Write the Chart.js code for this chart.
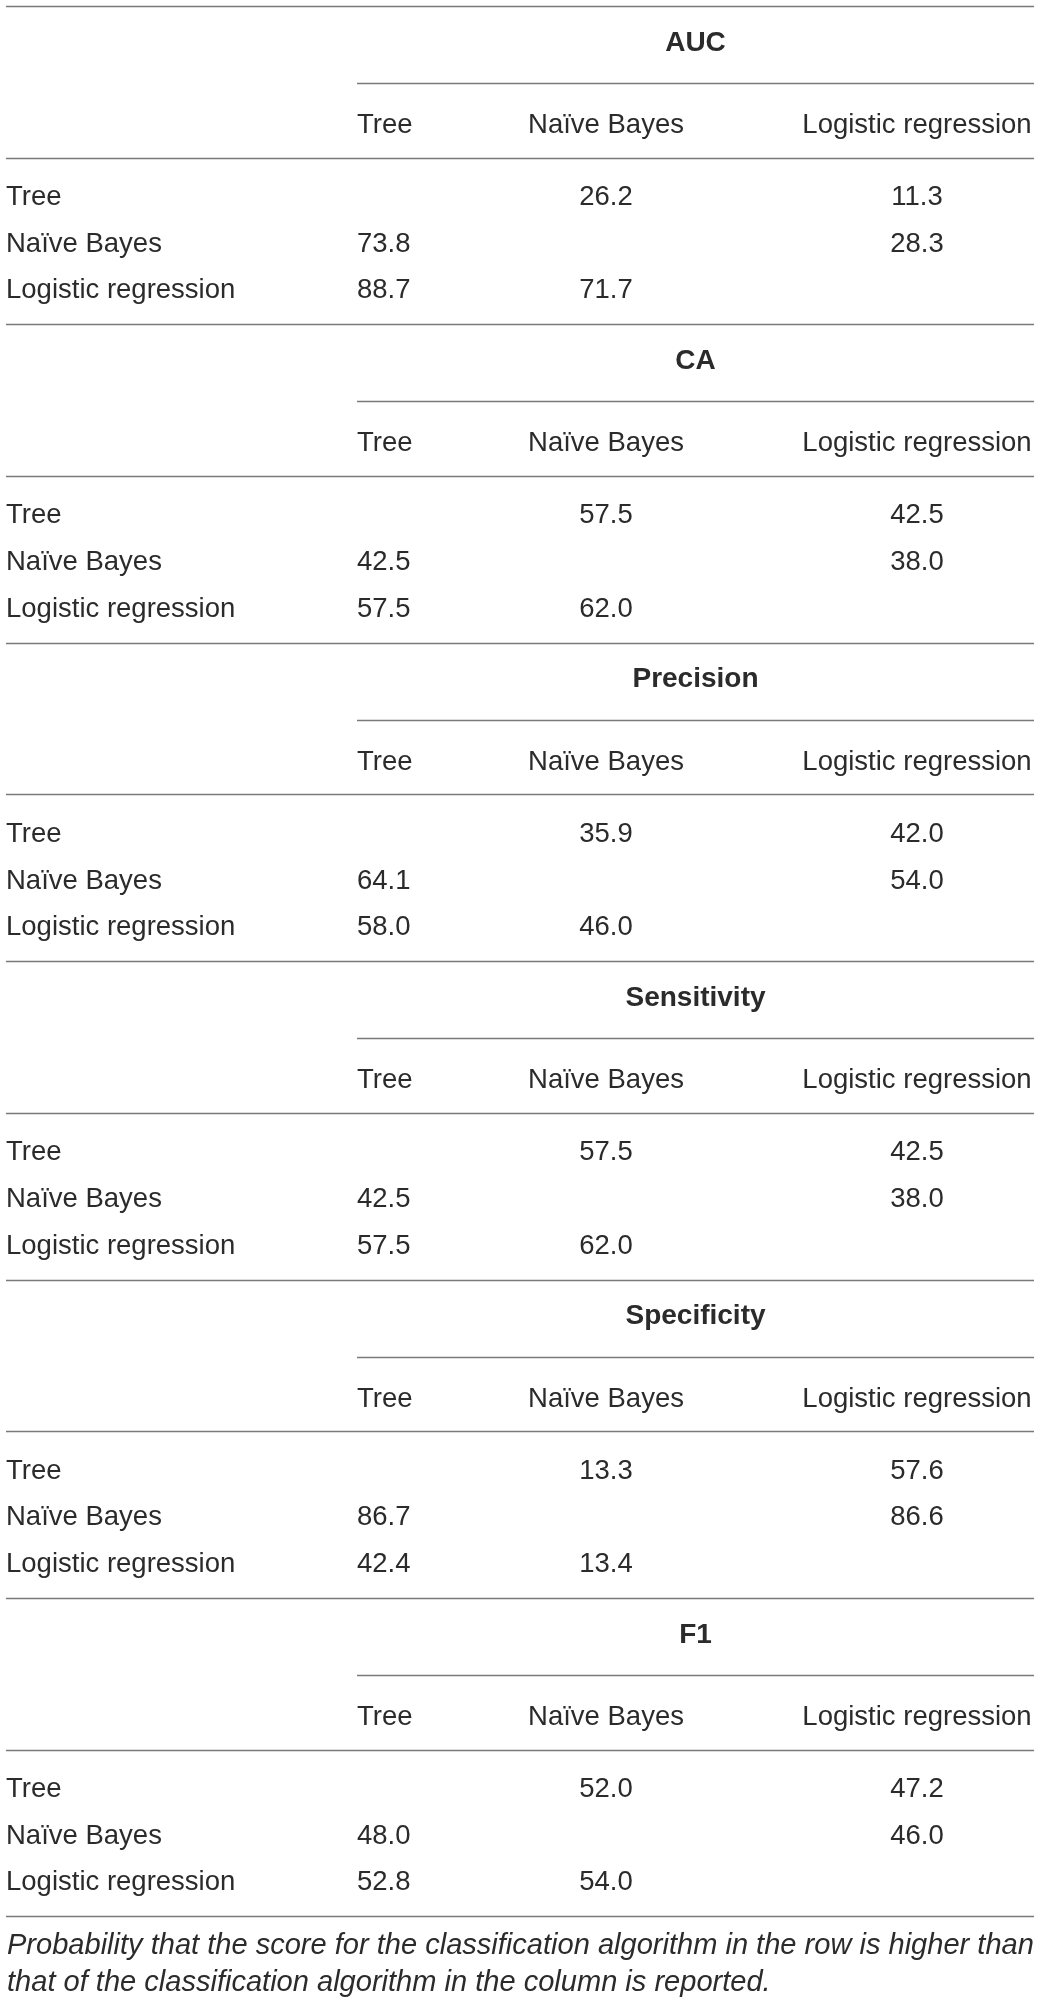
<!DOCTYPE html>
<html lang="en">
<head>
    <meta charset="UTF-8">
    <title>Pairwise comparison of classifiers</title>
    <script src="https://cdn.jsdelivr.net/npm/chart.js"></script>
    <style>
        html, body { margin: 0; padding: 0; background: #fff; }
        #tableChart { display: block; }
    </style>
</head>
<body>
    <canvas id="tableChart" width="1040" height="2003"></canvas>

    <script>
        const metricNames = ['AUC', 'CA', 'Precision', 'Sensitivity', 'Specificity', 'F1'];
        const algorithms = ['Tree', 'Naïve Bayes', 'Logistic regression'];
        const aucScores = [[null, 26.2, 11.3], [73.8, null, 28.3], [88.7, 71.7, null]];
        const caScores = [[null, 57.5, 42.5], [42.5, null, 38.0], [57.5, 62.0, null]];
        const precisionScores = [[null, 35.9, 42.0], [64.1, null, 54.0], [58.0, 46.0, null]];
        const sensitivityScores = [[null, 57.5, 42.5], [42.5, null, 38.0], [57.5, 62.0, null]];
        const specificityScores = [[null, 13.3, 57.6], [86.7, null, 86.6], [42.4, 13.4, null]];
        const f1Scores = [[null, 52.0, 47.2], [48.0, null, 46.0], [52.8, 54.0, null]];
        const footnote = [
            'Probability that the score for the classification algorithm in the row is higher than',
            'that of the classification algorithm in the column is reported.'
        ];

        const scoreTables = [aucScores, caScores, precisionScores, sensitivityScores, specificityScores, f1Scores];

        // layout (in scale units, which match the page)
        const W = 1040, H = 2003;
        const TOP = 6, SECTION_H = 318.4;
        const LINE_L = 6, LINE_R = 1034, SUB_L = 357;
        const colX = [6, 357, 606, 917];
        const colAlign = ['left', 'left', 'center', 'center'];
        const TITLE_Y = 44.5, SUBLINE_Y = 77, HEADER_Y = 127, HEADLINE_Y = 151.5;
        const ROW_Y = [199, 245.7, 292.4];
        const FOOT_Y = [1954, 1991];
        const FONT = '"Liberation Sans", Arial, sans-serif';
        const INK = '#2b2b2b';
        const RULE = '#7a7a7a';

        const cells = [];
        scoreTables.forEach((tbl, m) => {
            tbl.forEach((row, r) => {
                row.forEach((v, c) => {
                    if (v === null) return;
                    cells.push({ x: colX[c + 1], y: TOP + m * SECTION_H + ROW_Y[r], label: v.toFixed(1), align: colAlign[c + 1] });
                });
            });
        });

        const tablePlugin = {
            id: 'tablePlugin',
            afterDatasetsDraw(chart) {
                const ctx = chart.ctx;
                const xs = chart.scales.x, ys = chart.scales.y;
                const px = v => xs.getPixelForValue(v);
                const py = v => ys.getPixelForValue(v);

                function rule(x1, x2, y) {
                    ctx.beginPath();
                    ctx.moveTo(px(x1), Math.round(py(y)) + 0.5);
                    ctx.lineTo(px(x2), Math.round(py(y)) + 0.5);
                    ctx.stroke();
                }
                function text(s, x, y, align, font) {
                    ctx.font = font;
                    ctx.textAlign = align;
                    ctx.fillText(s, px(x), py(y));
                }

                ctx.save();
                ctx.strokeStyle = RULE;
                ctx.lineWidth = 1.6;
                ctx.fillStyle = INK;
                ctx.textBaseline = 'alphabetic';

                const body = '27.5px ' + FONT;
                const bold = 'bold 28px ' + FONT;

                for (let m = 0; m < metricNames.length; m++) {
                    const y0 = TOP + m * SECTION_H;
                    rule(LINE_L, LINE_R, y0);
                    text(metricNames[m], (SUB_L + LINE_R) / 2, y0 + TITLE_Y, 'center', bold);
                    rule(SUB_L, LINE_R, y0 + SUBLINE_Y);
                    algorithms.forEach((a, c) => text(a, colX[c + 1], y0 + HEADER_Y, colAlign[c + 1], body));
                    rule(LINE_L, LINE_R, y0 + HEADLINE_Y);
                    algorithms.forEach((a, r) => text(a, colX[0], y0 + ROW_Y[r], 'left', body));
                }
                rule(LINE_L, LINE_R, TOP + metricNames.length * SECTION_H);

                // cell values sit on the scatter points
                const meta = chart.getDatasetMeta(0);
                ctx.font = body;
                meta.data.forEach((el, i) => {
                    const d = chart.data.datasets[0].data[i];
                    ctx.textAlign = d.align;
                    ctx.fillText(d.label, el.x, el.y);
                });

                // footnote, sized to span the table width
                ctx.font = 'italic 27px ' + FONT;
                const w = ctx.measureText(footnote[0]).width;
                const size = 27 * (LINE_R - 1 - colX[0]) / w;
                footnote.forEach((s, i) => text(s, colX[0] + 1, FOOT_Y[i], 'left', 'italic ' + size.toFixed(2) + 'px ' + FONT));
                ctx.restore();
            }
        };

        new Chart(document.getElementById('tableChart'), {
            type: 'scatter',
            data: {
                datasets: [{
                    data: cells,
                    pointRadius: 0,
                    pointHoverRadius: 0
                }]
            },
            options: {
                responsive: false,
                animation: false,
                events: [],
                layout: { padding: 0 },
                plugins: { legend: { display: false }, tooltip: { enabled: false } },
                scales: {
                    x: { type: 'linear', min: 0, max: W, display: false },
                    y: { type: 'linear', min: 0, max: H, reverse: true, display: false }
                }
            },
            plugins: [tablePlugin]
        });
    </script>
</body>
</html>
